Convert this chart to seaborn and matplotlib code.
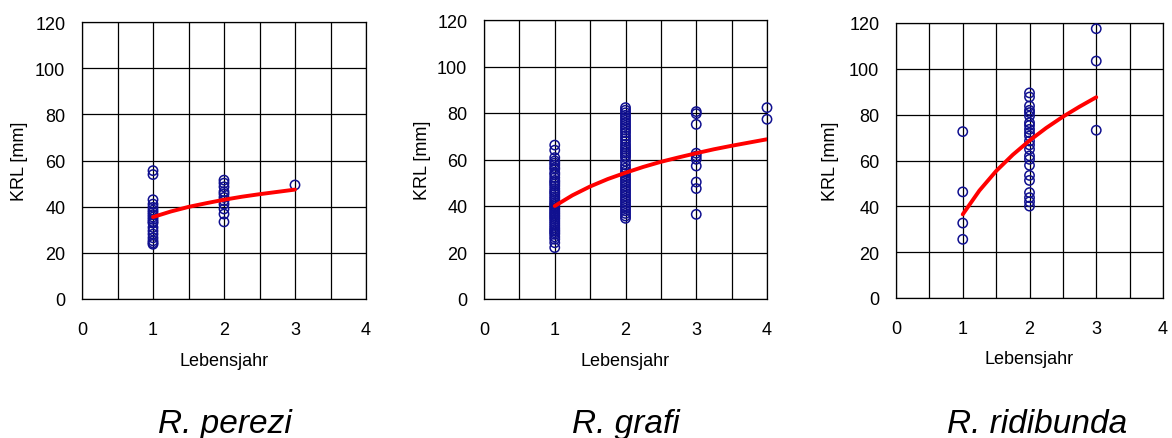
import numpy as np
import pandas as pd
import matplotlib
matplotlib.use("Agg")
import matplotlib.pyplot as plt
import seaborn as sns

# ---------------- data ----------------
species = ["R. perezi", "R. grafi", "R. ridibunda"]

perezi_age1 = [55.6, 53.9, 43.0, 41.1, 39.7, 38.5, 37.5, 36.5, 35.5, 34.5, 33.5, 32.9,
               31.0, 29.5, 28.1, 26.5, 25.2, 24.3, 23.7]
perezi_age2 = [51.5, 50.2, 48.6, 46.5, 45.5, 44.0, 42.6, 41.1, 39.0, 36.8, 33.4]
perezi_age3 = [49.4]

grafi_age1 = [66.2, 64.0, 60.8, 59.4, 58.5, 57.6, 56.5, 55.8, 54.3, 53.5, 52.2, 51.0,
              50.3, 49.5, 48.6, 47.5, 46.5, 45.8, 45.0, 44.0, 43.2, 42.3, 41.4, 40.7,
              40.0, 39.2, 38.6, 37.8, 37.1, 36.4, 35.7, 35.0, 34.3, 33.4, 32.5, 31.6,
              30.7, 29.9, 29.2, 28.5, 27.8, 26.7, 25.7, 24.2, 22.1]
grafi_age2 = [82.3, 81.2, 80.1, 79.0, 78.0, 76.9, 75.8, 74.7, 73.7, 72.6, 71.5, 70.2,
              69.0, 67.8, 66.5, 65.4, 64.4, 63.5, 62.7, 61.7, 60.8, 59.2, 57.6, 56.3,
              55.0, 54.0, 52.9, 51.8, 50.8, 49.7, 48.6, 47.5, 46.5, 45.4, 44.3, 43.2,
              42.2, 41.1, 40.0, 39.0, 37.9, 36.8, 35.7, 34.7]
grafi_age3 = [80.6, 79.7, 75.1, 62.7, 61.5, 60.1, 57.2, 50.3, 47.5, 36.4]
grafi_age4 = [82.3, 77.3]

ridibunda_age1 = [72.6, 46.3, 32.7, 25.6]
ridibunda_age2 = [89.5, 87.7, 83.8, 81.9, 80.9, 79.4, 76.5, 75.3, 73.6, 72.1, 70.7, 68.5,
                  66.8, 64.9, 62.0, 60.5, 57.9, 53.5, 51.3, 46.0, 43.8, 42.0, 40.1]
ridibunda_age3 = [117.5, 103.4, 73.2]

# trend lines
perezi_trend_x = [1, 1.25, 1.5, 1.75, 2, 2.25, 2.5, 2.75, 3]
perezi_trend_y = [35.5, 37.9, 39.9, 41.5, 43.0, 44.3, 45.4, 46.4, 47.4]
grafi_trend_x = [1, 1.25, 1.5, 1.75, 2, 2.25, 2.5, 2.75, 3, 3.25, 3.5, 3.75, 4]
grafi_trend_y = [40.0, 44.6, 48.4, 51.6, 54.3, 56.8, 59.0, 60.9, 62.7, 64.4, 65.9, 67.3, 68.7]
ridibunda_trend_x = [1, 1.25, 1.5, 1.75, 2, 2.25, 2.5, 2.75, 3]
ridibunda_trend_y = [36.5, 46.9, 55.4, 62.5, 68.7, 74.2, 79.1, 83.5, 87.6]

x_ticks = [0, 1, 2, 3, 4]
y_ticks = [0, 20, 40, 60, 80, 100, 120]
x_label = "Lebensjahr"
y_label = "KRL [mm]"


def scatter_frame(groups):
    rows = []
    for age, vals in groups:
        for v in vals:
            rows.append((age, v))
    return pd.DataFrame(rows, columns=["age", "krl"])


panels = [
    (scatter_frame([(1, perezi_age1), (2, perezi_age2), (3, perezi_age3)]),
     pd.DataFrame({"age": perezi_trend_x, "krl": perezi_trend_y})),
    (scatter_frame([(1, grafi_age1), (2, grafi_age2), (3, grafi_age3), (4, grafi_age4)]),
     pd.DataFrame({"age": grafi_trend_x, "krl": grafi_trend_y})),
    (scatter_frame([(1, ridibunda_age1), (2, ridibunda_age2), (3, ridibunda_age3)]),
     pd.DataFrame({"age": ridibunda_trend_x, "krl": ridibunda_trend_y})),
]

# ---------------- style ----------------
sns.set_style("white")
plt.rcParams["font.family"] = ["Liberation Sans", "DejaVu Sans"]
plt.rcParams["text.color"] = "black"
plt.rcParams["axes.labelcolor"] = "black"
plt.rcParams["xtick.color"] = "black"
plt.rcParams["ytick.color"] = "black"

W, H = 1172, 439
fig = plt.figure(figsize=(W / 100, H / 100), dpi=100)

# pixel boxes (left, right, top, bottom)
boxes = [(82, 366, 23, 300), (484, 767, 21, 300), (896, 1163, 24, 299)]
ylabel_x = [-0.19, -0.187, -0.213]
title_cx = [225, 626, 1037]
title_baseline = 433

for i, ((sdf, tdf), (l, r, t, b)) in enumerate(zip(panels, boxes)):
    ax = fig.add_axes([l / W, 1 - b / H, (r - l) / W, (b - t) / H])
    sns.scatterplot(data=sdf, x="age", y="krl", ax=ax, marker="o", s=45,
                    facecolor="none", edgecolor="#101090", linewidth=1.1,
                    clip_on=False, zorder=3)
    sns.lineplot(data=tdf, x="age", y="krl", ax=ax, color="#ff0000",
                 linewidth=2.8, zorder=4, estimator=None, sort=True)
    ax.set_xlim(0, 4)
    ax.set_ylim(0, 120)
    ax.set_xticks(x_ticks)
    ax.set_xticks(np.arange(0.5, 4, 1.0), minor=True)
    ax.set_yticks(y_ticks)
    ax.grid(True, which="both", color="black", linewidth=0.9)
    ax.set_axisbelow(True)
    ax.tick_params(axis="both", which="major", direction="out", length=4,
                   width=0.9, color="black", labelsize=13, labelcolor="black")
    ax.tick_params(axis="x", which="major", pad=12)
    ax.tick_params(axis="y", which="major", pad=8)
    ax.tick_params(axis="x", which="minor", length=0)
    for sp in ax.spines.values():
        sp.set_color("black")
        sp.set_linewidth(0.9)
    ax.set_xlabel(x_label, fontsize=13, color="black")
    ax.set_ylabel(y_label, fontsize=13, color="black")
    ax.xaxis.set_label_coords(0.5, -0.19)
    ax.yaxis.set_label_coords(ylabel_x[i], 0.5)
    fig.text(title_cx[i] / W, 1 - title_baseline / H, species[i], ha="center",
             va="baseline", fontsize=24, style="italic", color="black")
    leg = ax.get_legend()
    if leg:
        leg.remove()

fig.savefig("out.png", dpi=100)
